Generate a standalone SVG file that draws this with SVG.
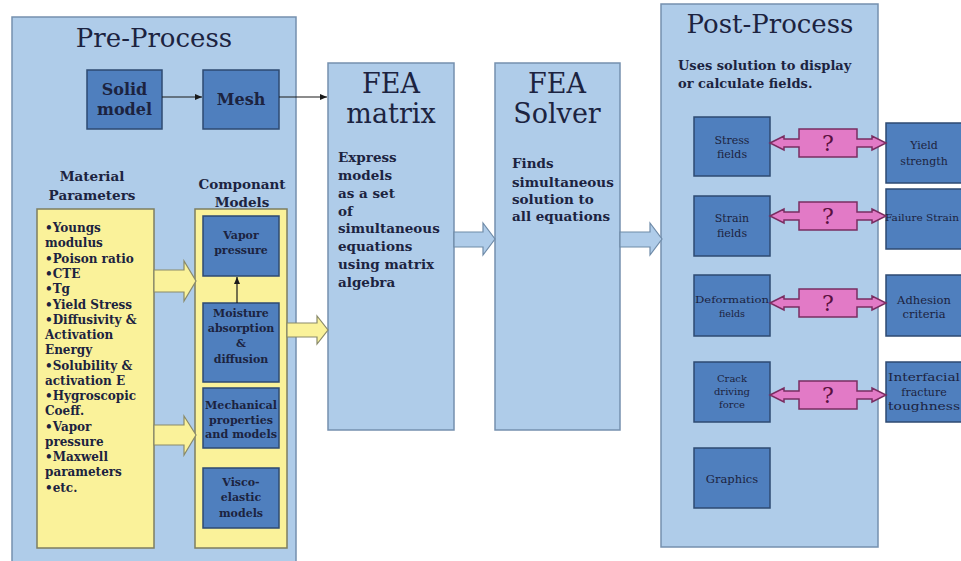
<svg xmlns="http://www.w3.org/2000/svg" width="961" height="561" viewBox="0 0 961 561">
<defs>
<style>
.panel{fill:#AFCCE9;stroke:#7590AE;stroke-width:1.5}
.dark{fill:#4F7FBE;stroke:#2E4A72;stroke-width:1.5}
.yel{fill:#FAF29A;stroke:#7E7D60;stroke-width:1.5}
.yarrow{fill:#FAF29A;stroke:#8A8A6A;stroke-width:1.2}
.barrow{fill:#AFCCE9;stroke:#6F8BA8;stroke-width:1.2}
.pink{fill:#E27AC6;stroke:#7A2E62;stroke-width:1.5}
.line{stroke:#1A1A1A;stroke-width:1.2;fill:none}
text{font-family:"DejaVu Serif","Liberation Serif",serif;fill:#1C2340}
.title{font-size:26px}
.big{font-size:27px}
.b{font-weight:bold}
.lab{font-size:16px;font-weight:bold;text-anchor:middle}
.hd{font-size:13.5px;font-weight:bold;text-anchor:middle}
.list{font-size:12px;font-weight:bold}
.body{font-size:13.5px;font-weight:bold}
.sm{font-size:11px;font-weight:bold;text-anchor:middle}
.xs{font-size:10px;text-anchor:middle}
.q{font-size:22px;text-anchor:middle;fill:#5A1040}
</style>
<marker id="ah" markerWidth="8" markerHeight="8" refX="7" refY="4" orient="auto" markerUnits="userSpaceOnUse">
<path d="M0,1 L7,4 L0,7 Z" fill="#1A1A1A"/>
</marker>
<path id="dbl" d="M770,0 L784,-7 L784,-4 L799,-4 L799,-14 L857,-14 L857,-4 L872,-4 L872,-7 L886,0 L872,7 L872,4 L857,4 L857,14 L799,14 L799,4 L784,4 L784,7 Z"/>
</defs>

<g id="pre-process">
<rect class="panel" x="12" y="17" width="284" height="545"/>
<text class="title" x="154" y="47" text-anchor="middle">Pre-Process</text>
</g>

<g id="solid-model">
<rect class="dark" x="87" y="70" width="75" height="59"/>
<text class="lab" x="124.5" y="95">Solid</text>
<text class="lab" x="124.5" y="115">model</text>
</g>

<g id="mesh">
<rect class="dark" x="203" y="70" width="76" height="59"/>
<text class="lab" x="241" y="105">Mesh</text>
</g>

<g id="material-parameters">
<text class="hd" x="92" y="181">Material</text>
<text class="hd" x="92" y="200">Parameters</text>
<rect class="yel" x="37" y="209" width="117" height="339"/>
<text class="list" x="45" y="232">•Youngs</text>
<text class="list" x="45" y="247">modulus</text>
<text class="list" x="45" y="263">•Poison ratio</text>
<text class="list" x="45" y="278">•CTE</text>
<text class="list" x="45" y="293">•Tg</text>
<text class="list" x="45" y="309">•Yield Stress</text>
<text class="list" x="45" y="324">•Diffusivity &amp;</text>
<text class="list" x="45" y="339">Activation</text>
<text class="list" x="45" y="354">Energy</text>
<text class="list" x="45" y="370">•Solubility &amp;</text>
<text class="list" x="45" y="385">activation E</text>
<text class="list" x="45" y="400">•Hygroscopic</text>
<text class="list" x="45" y="415">Coeff.</text>
<text class="list" x="45" y="431">•Vapor</text>
<text class="list" x="45" y="446">pressure</text>
<text class="list" x="45" y="461">•Maxwell</text>
<text class="list" x="45" y="476">parameters</text>
<text class="list" x="45" y="492">•etc.</text>
</g>

<g id="component-models">
<text class="hd" x="242" y="189">Componant</text>
<text class="hd" x="242" y="207">Models</text>
<rect class="yel" x="195" y="209" width="92" height="339"/>
</g>

<g id="vapor-pressure">
<rect class="dark" x="203" y="216" width="76" height="60"/>
<text class="sm" x="241" y="239">Vapor</text>
<text class="sm" x="241" y="254">pressure</text>
</g>

<g id="moisture">
<rect class="dark" x="203" y="303" width="76" height="79"/>
<text class="sm" x="241" y="317">Moisture</text>
<text class="sm" x="241" y="332">absorption</text>
<text class="sm" x="241" y="347">&amp;</text>
<text class="sm" x="241" y="363">diffusion</text>
</g>

<g id="mechanical">
<rect class="dark" x="203" y="388" width="76" height="60"/>
<text class="sm" x="241" y="409" textLength="72" lengthAdjust="spacingAndGlyphs">Mechanical</text>
<text class="sm" x="241" y="424">properties</text>
<text class="sm" x="241" y="438" textLength="72" lengthAdjust="spacingAndGlyphs">and models</text>
</g>

<g id="visco">
<rect class="dark" x="203" y="468" width="76" height="60"/>
<text class="sm" x="241" y="486">Visco-</text>
<text class="sm" x="241" y="501">elastic</text>
<text class="sm" x="241" y="517">models</text>
</g>

<g id="fea-matrix">
<rect class="panel" x="328" y="63" width="126" height="367"/>
<text class="big" x="391" y="93" text-anchor="middle">FEA</text>
<text class="big" x="391" y="123" text-anchor="middle">matrix</text>
<text class="body" x="338" y="162">Express</text>
<text class="body" x="338" y="180">models</text>
<text class="body" x="338" y="198">as a set</text>
<text class="body" x="338" y="216">of</text>
<text class="body" x="338" y="233">simultaneous</text>
<text class="body" x="338" y="251">equations</text>
<text class="body" x="338" y="269">using matrix</text>
<text class="body" x="338" y="287">algebra</text>
</g>

<g id="fea-solver">
<rect class="panel" x="495" y="63" width="125" height="367"/>
<text class="big" x="557" y="93" text-anchor="middle">FEA</text>
<text class="big" x="557" y="123" text-anchor="middle">Solver</text>
<text class="body" x="512" y="168">Finds</text>
<text class="body" x="512" y="187">simultaneous</text>
<text class="body" x="512" y="204">solution to</text>
<text class="body" x="512" y="221">all equations</text>
</g>

<g id="post-process">
<rect class="panel" x="661" y="4" width="217" height="543"/>
<text class="title" x="770" y="33" text-anchor="middle">Post-Process</text>
<text class="body" x="678" y="70" style="font-size:13px">Uses solution to display</text>
<text class="body" x="678" y="88" style="font-size:13px">or calculate fields.</text>
</g>

<g id="stress-fields">
<rect class="dark" x="694" y="117" width="76" height="59"/>
<text class="xs" x="732" y="144" style="font-size:11px">Stress</text>
<text class="xs" x="732" y="158" style="font-size:11px">fields</text>
</g>
<g id="strain-fields">
<rect class="dark" x="694" y="196" width="76" height="60"/>
<text class="xs" x="732" y="222" style="font-size:11px">Strain</text>
<text class="xs" x="732" y="237" style="font-size:11px">fields</text>
</g>
<g id="deformation-fields">
<rect class="dark" x="694" y="275" width="76" height="61"/>
<text class="xs" x="732" y="303" style="font-size:9.5px" textLength="74" lengthAdjust="spacingAndGlyphs">Deformation</text>
<text class="xs" x="732" y="317" style="font-size:9.5px">fields</text>
</g>
<g id="crack-driving-force">
<rect class="dark" x="694" y="362" width="76" height="60"/>
<text class="xs" x="732" y="382">Crack</text>
<text class="xs" x="732" y="395">driving</text>
<text class="xs" x="732" y="408">force</text>
</g>
<g id="graphics">
<rect class="dark" x="694" y="448" width="76" height="60"/>
<text class="xs" x="732" y="483" style="font-size:11.5px">Graphics</text>
</g>

<g id="yield-strength">
<rect class="dark" x="886" y="123" width="76" height="60"/>
<text class="xs" x="924" y="149" style="font-size:11px">Yield</text>
<text class="xs" x="924" y="165" style="font-size:11px">strength</text>
</g>
<g id="failure-strain">
<rect class="dark" x="886" y="189" width="76" height="60"/>
<text class="xs" x="922" y="221" style="font-size:8.5px" textLength="74" lengthAdjust="spacingAndGlyphs">Failure Strain</text>
</g>
<g id="adhesion-criteria">
<rect class="dark" x="886" y="275" width="76" height="61"/>
<text class="xs" x="924" y="304" style="font-size:11.5px">Adhesion</text>
<text class="xs" x="924" y="318" style="font-size:11.5px">criteria</text>
</g>
<g id="interfacial-fracture-toughness">
<rect class="dark" x="886" y="362" width="76" height="60"/>
<text class="xs" x="924" y="381" style="font-size:11px" textLength="72" lengthAdjust="spacingAndGlyphs">Interfacial</text>
<text class="xs" x="924" y="396" style="font-size:11px">fracture</text>
<text class="xs" x="924" y="410" style="font-size:11px" textLength="72" lengthAdjust="spacingAndGlyphs">toughness</text>
</g>

<g id="connectors">
<line class="line" x1="162" y1="97" x2="202" y2="97" marker-end="url(#ah)"/>
<line class="line" x1="279" y1="97" x2="327" y2="97" marker-end="url(#ah)"/>
<line class="line" x1="237" y1="303" x2="237" y2="277" marker-end="url(#ah)"/>
<polygon class="yarrow" points="154,270 184,270 184,261 196,281 184,301 184,292 154,292"/>
<polygon class="yarrow" points="154,425 184,425 184,416 196,435 184,455 184,445 154,445"/>
<polygon class="yarrow" points="287,323 317,323 317,316 328,330 317,344 317,337 287,337"/>
<polygon class="barrow" points="454,232 483,232 483,223 495,239 483,255 483,247 454,247"/>
<polygon class="barrow" points="620,232 650,232 650,223 662,239 650,255 650,247 620,247"/>
<use href="#dbl" class="pink" transform="translate(0,143)"/>
<use href="#dbl" class="pink" transform="translate(0,216)"/>
<use href="#dbl" class="pink" transform="translate(0,303)"/>
<use href="#dbl" class="pink" transform="translate(0,395)"/>
<text class="q" x="828" y="151">?</text>
<text class="q" x="828" y="224">?</text>
<text class="q" x="828" y="311">?</text>
<text class="q" x="828" y="403">?</text>
</g>
</svg>
